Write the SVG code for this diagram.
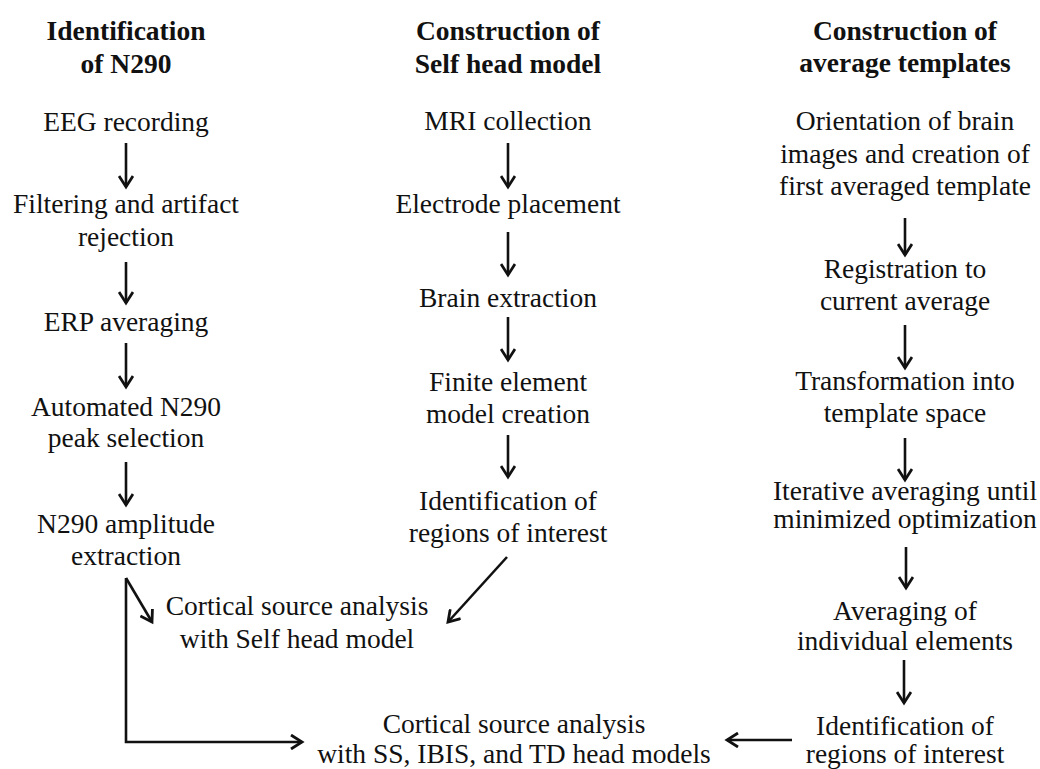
<svg xmlns="http://www.w3.org/2000/svg" width="1040" height="769" viewBox="0 0 1040 769">
<defs>
<marker id="ah" markerWidth="16" markerHeight="16" viewBox="-12 -8 14 16" refX="0" refY="0" orient="auto" markerUnits="userSpaceOnUse">
<polyline points="-11,-7 0,0 -11,7" fill="none" stroke="#111" stroke-width="2.8" stroke-linejoin="miter"/>
</marker>
<style>
text{font-family:"Liberation Serif","Times New Roman",serif;font-size:27.5px;fill:#111;text-anchor:middle}
.h{font-weight:bold}
.c{fill:none;stroke:#111;stroke-width:2.6}
.a{marker-end:url(#ah)}
</style>
</defs>
<rect width="1040" height="769" fill="#fff"/>
<g id="header-left"><text class="h" x="126" y="40">Identification</text><text class="h" x="126" y="73">of N290</text></g>
<g id="header-mid"><text class="h" x="508" y="40">Construction of</text><text class="h" x="508" y="73">Self head model</text></g>
<g id="header-right"><text class="h" x="905" y="40">Construction of</text><text class="h" x="905" y="72">average templates</text></g>

<g id="eeg"><text x="126" y="131">EEG recording</text></g>
<g id="filtering"><text x="126" y="213">Filtering and artifact</text><text x="126" y="246">rejection</text></g>
<g id="erp"><text x="126" y="331">ERP averaging</text></g>
<g id="auto"><text x="126" y="416">Automated N290</text><text x="126" y="447">peak selection</text></g>
<g id="amp"><text x="126" y="533">N290 amplitude</text><text x="126" y="565">extraction</text></g>

<g id="mri"><text x="508" y="130">MRI collection</text></g>
<g id="electrode"><text x="508" y="213">Electrode placement</text></g>
<g id="brain"><text x="508" y="307">Brain extraction</text></g>
<g id="fem"><text x="508" y="391">Finite element</text><text x="508" y="423">model creation</text></g>
<g id="roi-mid"><text x="508" y="510">Identification of</text><text x="508" y="542">regions of interest</text></g>

<g id="orient"><text x="905" y="130">Orientation of brain</text><text x="905" y="163">images and creation of</text><text x="905" y="195">first averaged template</text></g>
<g id="reg"><text x="905" y="278">Registration to</text><text x="905" y="310">current average</text></g>
<g id="trans"><text x="905" y="390">Transformation into</text><text x="905" y="422">template space</text></g>
<g id="iter"><text x="905" y="500">Iterative averaging until</text><text x="905" y="528">minimized optimization</text></g>
<g id="avgel"><text x="905" y="620">Averaging of</text><text x="905" y="650">individual elements</text></g>
<g id="roi-right"><text x="905" y="735">Identification of</text><text x="905" y="763">regions of interest</text></g>

<g id="self"><text x="297" y="615">Cortical source analysis</text><text x="297" y="648">with Self head model</text></g>
<g id="group"><text x="514" y="733">Cortical source analysis</text><text x="514" y="763">with SS, IBIS, and TD head models</text></g>

<g id="connectors">
<line class="c a" x1="126" y1="143" x2="126" y2="187"/>
<line class="c a" x1="126" y1="262" x2="126" y2="303"/>
<line class="c a" x1="126" y1="343" x2="126" y2="387"/>
<line class="c a" x1="126" y1="462" x2="126" y2="505"/>
<line class="c a" x1="508" y1="143" x2="508" y2="187"/>
<line class="c a" x1="508" y1="232" x2="508" y2="275"/>
<line class="c a" x1="508" y1="317" x2="508" y2="360"/>
<line class="c a" x1="508" y1="435" x2="508" y2="477"/>
<line class="c a" x1="507" y1="557" x2="448" y2="622"/>
<line class="c a" x1="905" y1="218" x2="905" y2="255"/>
<line class="c a" x1="905" y1="325" x2="905" y2="368"/>
<line class="c a" x1="905" y1="438" x2="905" y2="480"/>
<line class="c a" x1="906" y1="547" x2="906" y2="588"/>
<line class="c a" x1="904" y1="660" x2="904" y2="703"/>
<line class="c a" x1="126" y1="578" x2="152" y2="622"/>
<polyline class="c a" points="126,578 126,742 302,742"/>
<line class="c a" x1="792" y1="740" x2="727" y2="740"/>
</g>
</svg>
